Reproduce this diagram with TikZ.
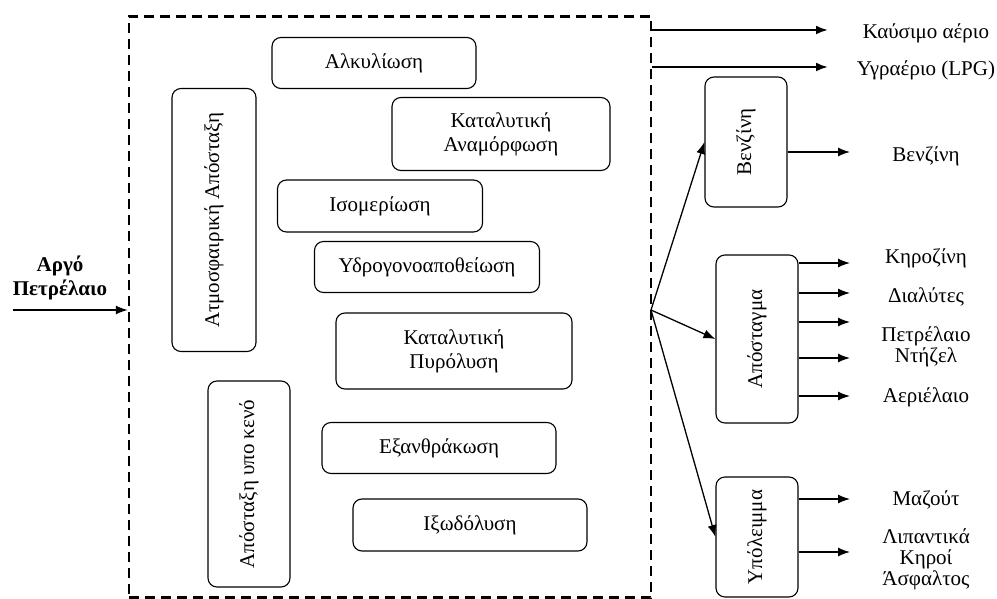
\documentclass[tikz,border=0pt]{standalone}
\usepackage{fontspec}
\setmainfont{Liberation Serif}
\usetikzlibrary{arrows.meta}

\begin{document}
\begin{tikzpicture}[x=1pt,y=-1pt]
  \tikzstyle{unit}=[draw,rounded corners=9pt,line width=1.1pt,align=center,inner sep=2pt,font=\fontsize{21}{24}\selectfont]
  \tikzstyle{prod}=[align=center,inner sep=0pt,font=\fontsize{21}{21}\selectfont]
  \tikzstyle{flow}=[line width=1.3pt,-{Latex[length=12pt,width=9pt]}]
  \useasboundingbox (0,0) rectangle (997,599);
  \coordinate (c) at (0,0);

  % refinery
  \draw (c)++(390,307) node[draw,line width=2.5pt,dash pattern=on 10pt off 6pt,minimum width=522,minimum height=581] (plant){};

  \draw (c)++(60,278) node[prod,font=\fontsize{21}{24}\selectfont\bfseries] (crude){Αργό\\Πετρέλαιο};
  \coordinate (feed) at (13,310);

  \draw (c)++(374,63) node[unit,minimum width=204,minimum height=51] (alk){Αλκυλίωση};
  \draw (c)++(214,220) node[unit,rotate=90,minimum width=263,minimum height=84] (atm){Ατμοσφαιρική Απόσταξη};
  \draw (c)++(501,134) node[unit,minimum width=218,minimum height=73] (ref){Καταλυτική\\Αναμόρφωση};
  \draw (c)++(380,206) node[unit,minimum width=205,minimum height=52] (iso){Ισομερίωση};
  \draw (c)++(427,267) node[unit,minimum width=225,minimum height=51] (hds){Υδρογονοαποθείωση};
  \draw (c)++(454,351) node[unit,minimum width=236,minimum height=76] (fcc){Καταλυτική\\Πυρόλυση};
  \draw (c)++(249,484) node[unit,rotate=90,minimum width=206,minimum height=82] (vac){Απόσταξη υπο κενό};
  \draw (c)++(439,448) node[unit,minimum width=234,minimum height=51] (cok){Εξανθράκωση};
  \draw (c)++(470,525) node[unit,minimum width=234,minimum height=52] (vis){Ιξωδόλυση};

  % products
  \draw (c)++(746,142) node[unit,rotate=90,minimum width=130,minimum height=82] (benz){Βενζίνη};
  \draw (c)++(757,339) node[unit,rotate=90,minimum width=168,minimum height=82] (dist){Απόσταγμα};
  \draw (c)++(757,537) node[unit,rotate=90,minimum width=120,minimum height=82] (resid){Υπόλειμμα};

  \draw (c)++(926,33) node[prod] (gas){Καύσιμο αέριο};
  \draw (c)++(926,70) node[prod] (lpg){Υγραέριο (LPG)};
  \draw (c)++(926,156) node[prod] (gasoline){Βενζίνη};
  \draw (c)++(926,258) node[prod] (kero){Κηροζίνη};
  \draw (c)++(926,297) node[prod] (solv){Διαλύτες};
  \draw (c)++(926,347) node[prod] (diesel){Πετρέλαιο\\Ντήζελ};
  \draw (c)++(926,397) node[prod] (gasoil){Αεριέλαιο};
  \draw (c)++(926,500) node[prod] (fuel){Μαζούτ};
  \draw (c)++(926,559) node[prod] (lube){Λιπαντικά\\Κηροί\\Άσφαλτος};

  \coordinate (g1) at (828,30);
  \coordinate (g2) at (828,67);
  \coordinate (b1) at (850,152);
  \coordinate (d1) at (850,263);
  \coordinate (d2) at (850,293);
  \coordinate (d3) at (850,322);
  \coordinate (d4) at (850,358);
  \coordinate (d5) at (850,396);
  \coordinate (r1) at (850,499);
  \coordinate (r2) at (850,552);
  \coordinate (fan) at (651,310);

  \draw[flow] (feed) -- (feed -| plant.west);
  \draw[flow,line width=2.2pt] (g1 -| plant.east) -- (g1);
  \draw[flow,line width=2.2pt] (g2 -| plant.east) -- (g2);

  \draw[flow] (fan) -- (benz.north);
  \draw[flow] (fan) -- (dist.north);
  \draw[flow] (fan) -- (resid.north);

  \draw[flow] (benz.south |- b1) -- (b1);
  \foreach \k in {d1,d2,d3,d4,d5}
    \draw[flow] (dist.south |- \k) -- (\k);
  \foreach \k in {r1,r2}
    \draw[flow] (resid.south |- \k) -- (\k);
\end{tikzpicture}
\end{document}
